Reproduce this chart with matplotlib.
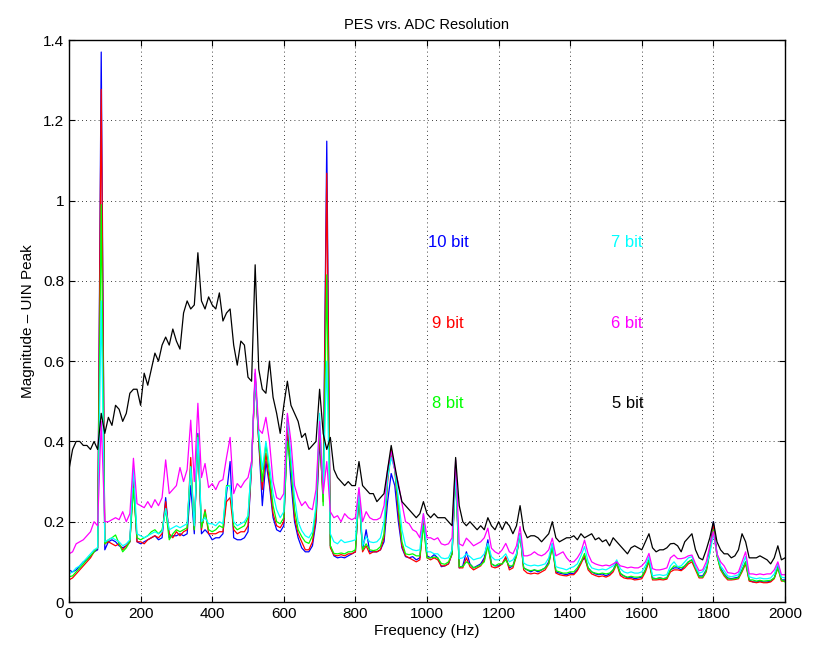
import matplotlib
matplotlib.use("Agg")
import matplotlib.pyplot as plt

freq = list(range(0, 2001, 10))

bit10 = [
    0.08, 0.075, 0.08, 0.09, 0.10, 0.105, 0.115, 0.125, 0.13, 1.37,
    0.13, 0.15, 0.155, 0.15, 0.14, 0.135, 0.14, 0.15, 0.31, 0.15,
    0.145, 0.15, 0.155, 0.16, 0.165, 0.155, 0.16, 0.26, 0.16, 0.165,
    0.165, 0.17, 0.165, 0.17, 0.29, 0.17, 0.42, 0.17, 0.18, 0.17,
    0.155, 0.16, 0.16, 0.17, 0.27, 0.35, 0.16, 0.155, 0.155, 0.16,
    0.175, 0.34, 0.57, 0.40, 0.24, 0.35, 0.29, 0.21, 0.18, 0.175,
    0.19, 0.43, 0.30, 0.20, 0.16, 0.135, 0.125, 0.125, 0.14, 0.20,
    0.40, 0.27, 1.148, 0.14, 0.115, 0.11, 0.112, 0.11, 0.115, 0.12,
    0.125, 0.27, 0.13, 0.18, 0.125, 0.125, 0.125, 0.13, 0.15, 0.25,
    0.32, 0.29, 0.20, 0.135, 0.113, 0.11, 0.113, 0.105, 0.11, 0.21,
    0.115, 0.11, 0.118, 0.11, 0.088, 0.09, 0.095, 0.12, 0.34, 0.085,
    0.09, 0.125, 0.095, 0.085, 0.09, 0.095, 0.11, 0.155, 0.095, 0.09,
    0.09, 0.095, 0.11, 0.085, 0.09, 0.12, 0.17, 0.085, 0.08, 0.075,
    0.08, 0.075, 0.08, 0.085, 0.10, 0.145, 0.075, 0.072, 0.07, 0.068,
    0.072, 0.07, 0.08, 0.10, 0.11, 0.085, 0.075, 0.07, 0.068, 0.07,
    0.065, 0.07, 0.08, 0.10, 0.07, 0.065, 0.06, 0.062, 0.058, 0.06,
    0.062, 0.08, 0.105, 0.06, 0.058, 0.06, 0.058, 0.06, 0.08, 0.085,
    0.085, 0.08, 0.09, 0.10, 0.105, 0.085, 0.065, 0.065, 0.08, 0.13,
    0.20, 0.12, 0.085, 0.07, 0.06, 0.058, 0.06, 0.062, 0.08, 0.10,
    0.055, 0.05, 0.05, 0.052, 0.05, 0.05, 0.052, 0.06, 0.09, 0.055,
    0.055]

bit9 = [
    0.055, 0.06, 0.07, 0.08, 0.09, 0.10, 0.11, 0.125, 0.135, 1.277,
    0.145, 0.15, 0.145, 0.14, 0.145, 0.13, 0.14, 0.15, 0.30, 0.15,
    0.15, 0.145, 0.155, 0.16, 0.165, 0.16, 0.17, 0.25, 0.17, 0.16,
    0.175, 0.165, 0.175, 0.18, 0.36, 0.18, 0.41, 0.18, 0.23, 0.17,
    0.17, 0.17, 0.175, 0.175, 0.25, 0.26, 0.18, 0.17, 0.175, 0.175,
    0.19, 0.34, 0.56, 0.40, 0.28, 0.37, 0.30, 0.22, 0.19, 0.185,
    0.20, 0.437, 0.34, 0.21, 0.17, 0.15, 0.13, 0.13, 0.15, 0.21,
    0.42, 0.25, 1.068, 0.135, 0.117, 0.115, 0.118, 0.115, 0.12, 0.12,
    0.125, 0.27, 0.125, 0.14, 0.12, 0.125, 0.125, 0.13, 0.16, 0.30,
    0.38, 0.33, 0.22, 0.14, 0.115, 0.11, 0.105, 0.10, 0.105, 0.20,
    0.11, 0.105, 0.11, 0.105, 0.09, 0.09, 0.095, 0.12, 0.33, 0.085,
    0.085, 0.11, 0.088, 0.08, 0.085, 0.09, 0.105, 0.145, 0.088, 0.085,
    0.088, 0.095, 0.113, 0.08, 0.085, 0.115, 0.17, 0.08, 0.072, 0.07,
    0.072, 0.07, 0.075, 0.08, 0.095, 0.138, 0.072, 0.068, 0.066, 0.065,
    0.068, 0.068, 0.078, 0.095, 0.115, 0.08, 0.07, 0.066, 0.063, 0.065,
    0.062, 0.066, 0.075, 0.095, 0.066, 0.06, 0.058, 0.058, 0.055, 0.056,
    0.058, 0.075, 0.10, 0.055, 0.055, 0.056, 0.055, 0.057, 0.075, 0.08,
    0.08, 0.078, 0.085, 0.095, 0.10, 0.08, 0.06, 0.06, 0.075, 0.125,
    0.19, 0.115, 0.08, 0.065, 0.055, 0.055, 0.056, 0.058, 0.075, 0.095,
    0.052, 0.05, 0.048, 0.05, 0.048, 0.048, 0.05, 0.058, 0.085, 0.052,
    0.052]

bit8 = [
    0.063, 0.065, 0.075, 0.085, 0.095, 0.105, 0.115, 0.125, 0.135, 0.99,
    0.145, 0.155, 0.16, 0.167, 0.145, 0.125, 0.135, 0.15, 0.283, 0.16,
    0.155, 0.16, 0.165, 0.175, 0.18, 0.17, 0.18, 0.23, 0.155, 0.17,
    0.18, 0.175, 0.18, 0.185, 0.337, 0.18, 0.416, 0.185, 0.225, 0.18,
    0.175, 0.18, 0.19, 0.185, 0.29, 0.29, 0.19, 0.18, 0.185, 0.19,
    0.21, 0.35, 0.56, 0.41, 0.30, 0.395, 0.32, 0.24, 0.20, 0.195,
    0.21, 0.40, 0.337, 0.23, 0.18, 0.163, 0.15, 0.146, 0.165, 0.23,
    0.44, 0.24, 0.815, 0.14, 0.121, 0.12, 0.122, 0.12, 0.125, 0.125,
    0.13, 0.27, 0.13, 0.145, 0.13, 0.128, 0.13, 0.138, 0.17, 0.31,
    0.37, 0.33, 0.24, 0.15, 0.12, 0.118, 0.12, 0.115, 0.115, 0.19,
    0.11, 0.11, 0.112, 0.11, 0.096, 0.094, 0.10, 0.12, 0.31, 0.088,
    0.088, 0.10, 0.094, 0.085, 0.088, 0.092, 0.10, 0.14, 0.095, 0.09,
    0.095, 0.095, 0.105, 0.09, 0.09, 0.115, 0.17, 0.085, 0.08, 0.078,
    0.08, 0.078, 0.08, 0.085, 0.095, 0.138, 0.078, 0.075, 0.072, 0.072,
    0.075, 0.075, 0.085, 0.10, 0.121, 0.085, 0.075, 0.072, 0.07, 0.072,
    0.07, 0.072, 0.08, 0.095, 0.072, 0.065, 0.062, 0.064, 0.062, 0.062,
    0.064, 0.08, 0.105, 0.058, 0.058, 0.06, 0.058, 0.06, 0.08, 0.09,
    0.088, 0.085, 0.09, 0.10, 0.105, 0.085, 0.063, 0.062, 0.078, 0.125,
    0.18, 0.115, 0.082, 0.068, 0.058, 0.057, 0.058, 0.06, 0.078, 0.10,
    0.055, 0.055, 0.052, 0.054, 0.052, 0.053, 0.054, 0.06, 0.085, 0.055,
    0.05]

bit7 = [
    0.07, 0.075, 0.085, 0.09, 0.10, 0.11, 0.12, 0.13, 0.135, 0.75,
    0.15, 0.155, 0.16, 0.155, 0.15, 0.14, 0.145, 0.155, 0.333, 0.17,
    0.165, 0.16, 0.165, 0.17, 0.175, 0.17, 0.175, 0.233, 0.18, 0.185,
    0.19, 0.185, 0.19, 0.195, 0.337, 0.19, 0.41, 0.20, 0.21, 0.195,
    0.195, 0.19, 0.20, 0.195, 0.287, 0.29, 0.20, 0.19, 0.195, 0.20,
    0.215, 0.35, 0.56, 0.42, 0.33, 0.40, 0.34, 0.27, 0.23, 0.21,
    0.225, 0.466, 0.36, 0.26, 0.20, 0.178, 0.165, 0.16, 0.175, 0.24,
    0.47, 0.28, 0.60, 0.17, 0.15, 0.145, 0.155, 0.148, 0.15, 0.152,
    0.155, 0.28, 0.14, 0.163, 0.15, 0.148, 0.15, 0.16, 0.20, 0.31,
    0.36, 0.33, 0.26, 0.18, 0.14, 0.135, 0.13, 0.128, 0.13, 0.22,
    0.125, 0.125, 0.12, 0.12, 0.11, 0.108, 0.11, 0.13, 0.32, 0.108,
    0.11, 0.12, 0.113, 0.105, 0.108, 0.11, 0.12, 0.146, 0.113, 0.105,
    0.105, 0.11, 0.12, 0.10, 0.105, 0.12, 0.17, 0.097, 0.092, 0.09,
    0.092, 0.09, 0.092, 0.095, 0.11, 0.146, 0.088, 0.085, 0.083, 0.08,
    0.085, 0.088, 0.095, 0.115, 0.138, 0.10, 0.085, 0.082, 0.08, 0.082,
    0.08, 0.085, 0.09, 0.105, 0.083, 0.075, 0.072, 0.075, 0.072, 0.072,
    0.075, 0.09, 0.113, 0.065, 0.067, 0.068, 0.066, 0.068, 0.09, 0.10,
    0.088, 0.09, 0.10, 0.11, 0.113, 0.088, 0.072, 0.075, 0.09, 0.12,
    0.17, 0.12, 0.09, 0.078, 0.065, 0.063, 0.065, 0.068, 0.09, 0.113,
    0.063, 0.06, 0.058, 0.06, 0.058, 0.058, 0.06, 0.07, 0.095, 0.062,
    0.06]

bit6 = [
    0.12, 0.125, 0.145, 0.15, 0.155, 0.165, 0.175, 0.20, 0.19, 0.45,
    0.20, 0.20, 0.205, 0.21, 0.205, 0.225, 0.20, 0.22, 0.358, 0.245,
    0.24, 0.235, 0.25, 0.235, 0.255, 0.24, 0.26, 0.354, 0.27, 0.28,
    0.29, 0.335, 0.30, 0.33, 0.453, 0.30, 0.495, 0.31, 0.345, 0.285,
    0.295, 0.28, 0.30, 0.305, 0.36, 0.41, 0.27, 0.295, 0.285, 0.30,
    0.31, 0.35, 0.58, 0.43, 0.42, 0.46, 0.40, 0.30, 0.26, 0.255,
    0.27, 0.47, 0.40, 0.29, 0.26, 0.24, 0.25, 0.235, 0.23, 0.28,
    0.45, 0.27, 0.35, 0.225, 0.21, 0.215, 0.20, 0.22, 0.21, 0.205,
    0.21, 0.285, 0.20, 0.225, 0.21, 0.205, 0.205, 0.21, 0.24, 0.33,
    0.375, 0.33, 0.296, 0.246, 0.20, 0.195, 0.18, 0.175, 0.16, 0.22,
    0.16, 0.16, 0.155, 0.16, 0.145, 0.142, 0.145, 0.16, 0.354, 0.145,
    0.14, 0.159, 0.15, 0.14, 0.145, 0.15, 0.16, 0.184, 0.134, 0.125,
    0.12, 0.13, 0.146, 0.125, 0.12, 0.14, 0.188, 0.115, 0.115, 0.118,
    0.125, 0.118, 0.115, 0.12, 0.13, 0.159, 0.115, 0.12, 0.125, 0.11,
    0.10, 0.10, 0.11, 0.125, 0.154, 0.12, 0.10, 0.095, 0.092, 0.09,
    0.092, 0.09, 0.095, 0.10, 0.09, 0.088, 0.085, 0.087, 0.085, 0.085,
    0.09, 0.10, 0.121, 0.083, 0.08, 0.08, 0.082, 0.085, 0.11, 0.117,
    0.108, 0.108, 0.11, 0.115, 0.117, 0.095, 0.078, 0.08, 0.10, 0.14,
    0.175, 0.12, 0.10, 0.09, 0.073, 0.072, 0.07, 0.075, 0.10, 0.125,
    0.07, 0.07, 0.068, 0.07, 0.068, 0.07, 0.07, 0.08, 0.10, 0.068,
    0.068]

bit5 = [
    0.33, 0.38, 0.40, 0.40, 0.39, 0.39, 0.38, 0.40, 0.38, 0.47,
    0.42, 0.46, 0.44, 0.49, 0.48, 0.45, 0.47, 0.52, 0.53, 0.53,
    0.49, 0.57, 0.54, 0.58, 0.62, 0.60, 0.64, 0.66, 0.64, 0.68,
    0.65, 0.63, 0.72, 0.75, 0.73, 0.74, 0.87, 0.75, 0.73, 0.76,
    0.74, 0.73, 0.77, 0.70, 0.72, 0.73, 0.64, 0.59, 0.65, 0.64,
    0.56, 0.55, 0.84, 0.58, 0.53, 0.52, 0.60, 0.51, 0.47, 0.42,
    0.49, 0.55, 0.49, 0.47, 0.45, 0.41, 0.42, 0.38, 0.39, 0.40,
    0.53, 0.42, 0.38, 0.41, 0.33, 0.31, 0.30, 0.29, 0.30, 0.29,
    0.29, 0.35, 0.29, 0.28, 0.27, 0.27, 0.25, 0.26, 0.27, 0.33,
    0.39, 0.34, 0.29, 0.25, 0.24, 0.23, 0.22, 0.21, 0.22, 0.25,
    0.22, 0.21, 0.22, 0.21, 0.21, 0.21, 0.20, 0.19, 0.36, 0.24,
    0.20, 0.19, 0.20, 0.19, 0.18, 0.19, 0.18, 0.21, 0.19, 0.18,
    0.20, 0.18, 0.20, 0.19, 0.17, 0.19, 0.24, 0.18, 0.16, 0.165,
    0.165, 0.16, 0.15, 0.16, 0.17, 0.20, 0.16, 0.15, 0.155, 0.16,
    0.16, 0.165, 0.155, 0.17, 0.16, 0.165, 0.17, 0.155, 0.16, 0.15,
    0.155, 0.14, 0.16, 0.15, 0.14, 0.13, 0.12, 0.135, 0.14, 0.135,
    0.13, 0.15, 0.17, 0.135, 0.125, 0.13, 0.13, 0.135, 0.145, 0.146,
    0.14, 0.125, 0.15, 0.16, 0.17, 0.13, 0.11, 0.105, 0.13, 0.16,
    0.20, 0.15, 0.13, 0.12, 0.12, 0.11, 0.115, 0.13, 0.17, 0.15,
    0.11, 0.11, 0.11, 0.115, 0.11, 0.105, 0.095, 0.11, 0.14, 0.105,
    0.11]

series = [bit10, bit9, bit8, bit7, bit6, bit5]
colors = ['#0000ff', '#ff0000', '#00ff00', '#00ffff', '#ff00ff', '#000000']
labels = ['10 bit', '9 bit', '8 bit', '7 bit', '6 bit', '5 bit']
label_pos = [(1003, 0.895), (1014, 0.695), (1014, 0.495),
             (1514, 0.895), (1514, 0.695), (1517, 0.495)]

plt.rcParams['font.family'] = ['Liberation Sans', 'DejaVu Sans']

fig = plt.figure(figsize=(8.16, 6.52), dpi=100)
ax = fig.add_axes([69/816, 1-602/652, (785-69)/816, (602-40)/652])

for y, c in zip(series, colors):
    ax.plot(freq, y, color=c, lw=0.9)

for (tx, ty), lab, c in zip(label_pos, labels, colors):
    ax.text(tx, ty, lab, color=c, fontsize=12, ha='left', va='center')

ax.set_xlim(0, 2000)
ax.set_ylim(0, 1.4)
ax.set_xticks(range(0, 2001, 200))
ax.set_yticks([0, 0.2, 0.4, 0.6, 0.8, 1.0, 1.2, 1.4])
ax.set_yticklabels(['0', '0.2', '0.4', '0.6', '0.8', '1', '1.2', '1.4'])
ax.tick_params(direction='in', top=True, right=True, labelsize=11, length=4)
ax.grid(True, color='black', linestyle=(0, (1, 4)), lw=0.6)
for s in ax.spines.values():
    s.set_linewidth(1.0)

ax.set_title('PES vrs. ADC Resolution', fontsize=10.5, pad=8)
ax.set_xlabel('Frequency (Hz)', fontsize=11, labelpad=2)
ax.set_ylabel('Magnitude \u2013 UIN Peak', fontsize=11, labelpad=6)

fig.savefig('out.png', dpi=100)
